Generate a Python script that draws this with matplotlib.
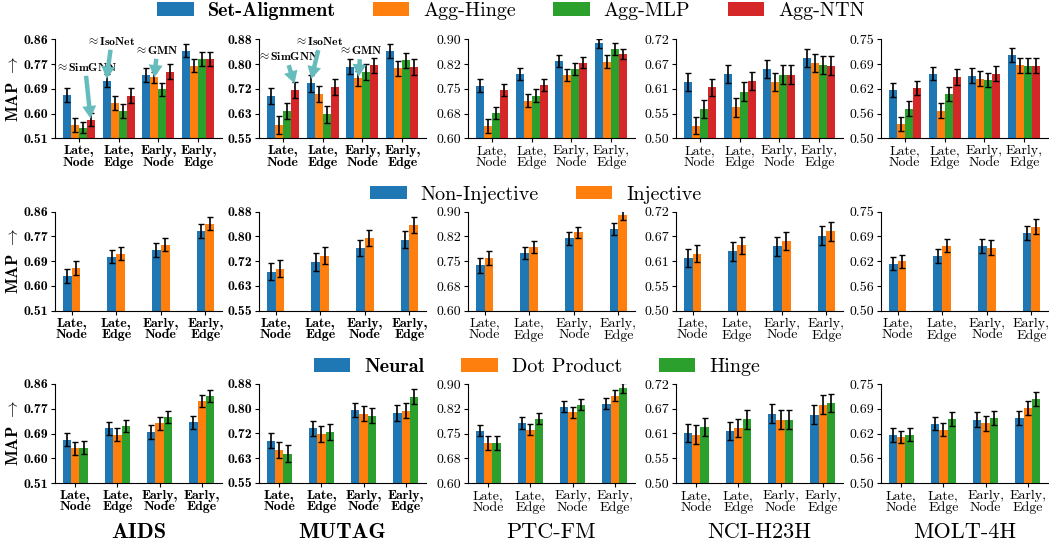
import numpy as np
import matplotlib
matplotlib.use("Agg")
import matplotlib.pyplot as plt

plt.rcParams['mathtext.fontset'] = 'cm'
plt.rcParams['axes.unicode_minus'] = False
plt.rcParams['axes.formatter.use_mathtext'] = True

datasets = ["AIDS", "MUTAG", "PTC-FM", "NCI-H23H", "MOLT-4H"]
groups = ["Late,\nNode", "Late,\nEdge", "Early,\nNode", "Early,\nEdge"]
ylims = [(0.51, 0.86), (0.55, 0.88), (0.60, 0.90), (0.50, 0.72), (0.50, 0.75)]
ytick_labels = [["0.51", "0.60", "0.69", "0.77", "0.86"],
                ["0.55", "0.63", "0.72", "0.80", "0.88"],
                ["0.60", "0.68", "0.75", "0.82", "0.90"],
                ["0.50", "0.55", "0.61", "0.67", "0.72"],
                ["0.50", "0.56", "0.62", "0.69", "0.75"]]
colors = ["#1f77b4", "#ff7f0e", "#2ca02c", "#d62728"]

# row 1: aggregation
agg_names = ["Set-Alignment", "Agg-Hinge", "Agg-MLP", "Agg-NTN"]
agg_aids = [[0.663, 0.713, 0.734, 0.819], [0.557, 0.636, 0.726, 0.767],
            [0.548, 0.608, 0.683, 0.790], [0.576, 0.661, 0.746, 0.790]]
agg_aids_err = [[0.024, 0.023, 0.024, 0.023], [0.024, 0.025, 0.020, 0.022],
                [0.020, 0.025, 0.024, 0.024], [0.022, 0.027, 0.025, 0.024]]
agg_mutag = [[0.691, 0.733, 0.788, 0.841], [0.594, 0.697, 0.750, 0.783],
             [0.641, 0.630, 0.771, 0.810], [0.710, 0.721, 0.794, 0.788]]
agg_mutag_err = [[0.028, 0.028, 0.025, 0.024], [0.030, 0.027, 0.024, 0.025],
                 [0.028, 0.028, 0.026, 0.025], [0.027, 0.026, 0.025, 0.028]]
agg_ptc = [[0.760, 0.795, 0.834, 0.888], [0.637, 0.714, 0.792, 0.832],
           [0.676, 0.729, 0.810, 0.871], [0.746, 0.762, 0.829, 0.856]]
agg_ptc_err = [[0.020, 0.018, 0.019, 0.014], [0.021, 0.019, 0.018, 0.019],
               [0.019, 0.019, 0.018, 0.019], [0.019, 0.018, 0.017, 0.016]]
agg_nci = [[0.626, 0.643, 0.654, 0.678], [0.528, 0.569, 0.626, 0.667],
           [0.566, 0.604, 0.641, 0.663], [0.613, 0.628, 0.641, 0.661]]
agg_nci_err = [[0.020, 0.021, 0.020, 0.020], [0.019, 0.021, 0.020, 0.020],
               [0.020, 0.021, 0.021, 0.021], [0.019, 0.020, 0.021, 0.021]]
agg_molt = [[0.622, 0.663, 0.658, 0.711], [0.536, 0.570, 0.650, 0.685],
            [0.575, 0.612, 0.648, 0.683], [0.627, 0.654, 0.663, 0.683]]
agg_molt_err = [[0.017, 0.017, 0.019, 0.018], [0.017, 0.019, 0.019, 0.019],
                [0.018, 0.018, 0.018, 0.019], [0.018, 0.020, 0.019, 0.019]]

# row 2: injectivity
inj_names = ["Non-Injective", "Injective"]
inj_aids = [[0.632, 0.700, 0.725, 0.792], [0.661, 0.711, 0.743, 0.817]]
inj_aids_err = [[0.024, 0.023, 0.025, 0.024], [0.025, 0.023, 0.023, 0.023]]
inj_mutag = [[0.680, 0.713, 0.759, 0.786], [0.690, 0.733, 0.792, 0.836]]
inj_mutag_err = [[0.028, 0.029, 0.026, 0.028], [0.028, 0.028, 0.027, 0.027]]
inj_ptc = [[0.737, 0.775, 0.820, 0.848], [0.760, 0.793, 0.837, 0.890]]
inj_ptc_err = [[0.022, 0.019, 0.020, 0.019], [0.020, 0.017, 0.017, 0.014]]
inj_nci = [[0.618, 0.632, 0.643, 0.667], [0.627, 0.645, 0.655, 0.677]]
inj_nci_err = [[0.020, 0.021, 0.021, 0.021], [0.018, 0.019, 0.019, 0.021]]
inj_molt = [[0.619, 0.639, 0.664, 0.697], [0.625, 0.664, 0.659, 0.712]]
inj_molt_err = [[0.017, 0.018, 0.018, 0.018], [0.016, 0.017, 0.019, 0.019]]

# row 3: scoring
sc_names = ["Neural", "Dot Product", "Hinge"]
sc_aids = [[0.663, 0.704, 0.690, 0.725], [0.632, 0.681, 0.722, 0.799],
           [0.634, 0.712, 0.744, 0.818]]
sc_aids_err = [[0.023, 0.023, 0.026, 0.023], [0.024, 0.023, 0.023, 0.022],
               [0.023, 0.022, 0.022, 0.020]]
sc_mutag = [[0.691, 0.733, 0.794, 0.783], [0.661, 0.713, 0.780, 0.791],
            [0.648, 0.720, 0.774, 0.838]]
sc_mutag_err = [[0.025, 0.025, 0.024, 0.028], [0.027, 0.026, 0.025, 0.025],
                [0.028, 0.028, 0.025, 0.025]]
sc_ptc = [[0.759, 0.782, 0.831, 0.840], [0.721, 0.762, 0.814, 0.864],
          [0.721, 0.795, 0.837, 0.887]]
sc_ptc_err = [[0.017, 0.018, 0.016, 0.017], [0.021, 0.018, 0.017, 0.017],
              [0.021, 0.017, 0.017, 0.015]]
sc_nci = [[0.611, 0.616, 0.654, 0.652], [0.607, 0.622, 0.641, 0.674],
          [0.624, 0.642, 0.641, 0.677]]
sc_nci_err = [[0.020, 0.020, 0.021, 0.021], [0.021, 0.020, 0.021, 0.021],
              [0.020, 0.021, 0.021, 0.020]]
sc_molt = [[0.622, 0.650, 0.660, 0.664], [0.616, 0.635, 0.651, 0.689],
           [0.622, 0.662, 0.664, 0.712]]
sc_molt_err = [[0.018, 0.017, 0.019, 0.018], [0.016, 0.017, 0.019, 0.018],
               [0.016, 0.017, 0.018, 0.017]]

rows = [
    (agg_names, [agg_aids, agg_mutag, agg_ptc, agg_nci, agg_molt],
     [agg_aids_err, agg_mutag_err, agg_ptc_err, agg_nci_err, agg_molt_err]),
    (inj_names, [inj_aids, inj_mutag, inj_ptc, inj_nci, inj_molt],
     [inj_aids_err, inj_mutag_err, inj_ptc_err, inj_nci_err, inj_molt_err]),
    (sc_names, [sc_aids, sc_mutag, sc_ptc, sc_nci, sc_molt],
     [sc_aids_err, sc_mutag_err, sc_ptc_err, sc_nci_err, sc_molt_err]),
]

# arrows on the first row: (column, label, text x, text y, point x, point y)
notes = [(0, "SimGNN", 0.18, 0.762, 0.30, 0.580),
         (0, "IsoNet", 0.81, 0.854, 0.70, 0.720),
         (0, "GMN", 1.95, 0.822, 1.90, 0.725),
         (1, "SimGNN", 0.13, 0.823, 0.30, 0.732),
         (1, "IsoNet", 0.91, 0.873, 0.72, 0.748),
         (1, "GMN", 1.94, 0.843, 1.90, 0.755)]

W, H = 1049, 543
fig = plt.figure(figsize=(W / 100, H / 100), dpi=100)

col_left = [55, 259, 468, 676, 881]
ax_w = 167
row_top = [39.3, 211.7, 384]
ax_h = 99
bar_w = 0.2
x = np.arange(len(groups))

axes = []
for r, (names, panels, errs) in enumerate(rows):
    row_axes = []
    for c in range(5):
        font = 'cmb10' if c < 2 else 'cmr10'
        ax = fig.add_axes([col_left[c] / W, 1 - (row_top[r] + ax_h) / H,
                           ax_w / W, ax_h / H])
        n = len(names)
        for i in range(n):
            ax.bar(x + (i - (n - 1) / 2) * bar_w, panels[c][i], bar_w,
                   yerr=errs[c][i], color=colors[i], label=names[i],
                   error_kw=dict(ecolor='black', elinewidth=1.2, capsize=2.5,
                                 capthick=1.0))
        lo, hi = ylims[c]
        ax.set_ylim(lo, hi)
        ax.set_yticks(np.linspace(lo, hi, 5))
        ax.set_yticklabels(ytick_labels[c], fontfamily=font, fontsize=10)
        ax.set_xticks(x)
        ax.set_xticklabels(groups, fontfamily=font, fontsize=10,
                           linespacing=0.95)
        ax.spines['top'].set_visible(False)
        ax.spines['right'].set_visible(False)
        ax.tick_params(length=3, width=0.8, pad=2)
        if c == 0:
            ax.set_ylabel(r"MAP $\rightarrow$", fontfamily='cmb10',
                          fontsize=12, labelpad=2)
        if r == 2:
            fig.text((col_left[c] + ax_w / 2) / W, (H - 532) / H, datasets[c],
                     ha='center', va='center', fontsize=16, fontfamily=font)
        row_axes.append(ax)
    axes.append(row_axes)

for c, name, tx, ty, px, py in notes:
    axes[0][c].annotate(r"$\approx$" + name, xy=(px, py), xytext=(tx, ty),
                        ha='center', va='center', fontsize=8.5,
                        fontfamily='cmb10',
                        arrowprops=dict(facecolor='#66bcbc', edgecolor='none',
                                        width=3.2, headwidth=10, headlength=9,
                                        shrink=0.0))

legend_pos = [(511, 11), (536, 194.5), (537, 367)]
for r, (names, _, _) in enumerate(rows):
    handles, labels = axes[r][0].get_legend_handles_labels()
    leg = fig.legend(handles, labels, loc='center', ncol=len(names),
                     bbox_to_anchor=(legend_pos[r][0] / W, 1 - legend_pos[r][1] / H),
                     frameon=False, prop={'family': 'cmr10', 'size': 14.5},
                     handlelength=1.8, handleheight=0.65, handletextpad=0.7,
                     columnspacing=1.85, borderaxespad=0, borderpad=0)
    # the text left of the middle comes out bold in the original
    if r != 1:
        leg.get_texts()[0].set_fontfamily('cmb10')

plt.savefig("out.png", dpi=100)
